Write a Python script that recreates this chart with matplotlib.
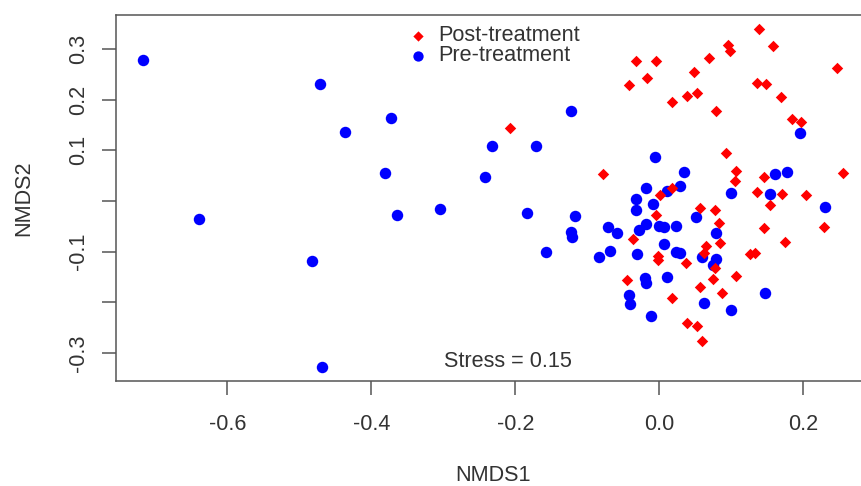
import matplotlib

matplotlib.use("Agg")

import matplotlib.pyplot as plt
import numpy as np

plt.rcParams["font.family"] = ["Liberation Sans", "DejaVu Sans"]

_TEXT = "#333333"
_FRAME = "#555555"
_FS = 15.6

# NMDS scores
pre_x = [-0.717, -0.4715, -0.373, -0.437, -0.381, -0.364, -0.639, -0.483, -0.468,
         -0.123, -0.232, -0.172, -0.242, -0.305, -0.184, -0.117, -0.123, -0.122,
         -0.157, 0.195, -0.006, 0.034, 0.160, 0.1775, -0.019, 0.029, 0.010, 0.099,
         0.153, -0.033, -0.032, -0.0095, 0.230, 0.051, -0.072, -0.059, -0.028,
         -0.019, 0.000, 0.007, 0.023, 0.079, 0.006, -0.068, -0.084, -0.031, 0.023,
         0.028, 0.059, 0.079, 0.075, -0.020, -0.019, 0.011, -0.042, -0.041, 0.062,
         0.099, 0.1465, -0.012]
pre_y = [0.278, 0.231, 0.164, 0.136, 0.056, -0.027, -0.036, -0.119, -0.327,
         0.178, 0.108, 0.108, 0.048, -0.016, -0.024, -0.030, -0.061, -0.070,
         -0.100, 0.134, 0.087, 0.058, 0.053, 0.058, 0.026, 0.029, 0.020, 0.015,
         0.013, 0.003, -0.018, -0.0065, -0.011, -0.031, -0.052, -0.0625, -0.057,
         -0.045, -0.050, -0.052, -0.050, -0.064, -0.085, -0.099, -0.110, -0.105,
         -0.101, -0.103, -0.111, -0.114, -0.126, -0.152, -0.162, -0.150, -0.185,
         -0.203, -0.201, -0.214, -0.181, -0.227]

post_x = [0.138, 0.158, 0.0956, 0.098, 0.069, -0.032, -0.005, 0.246, 0.048, -0.017,
          -0.042, 0.135, 0.1475, 0.038, 0.052, 0.169, 0.017, 0.079, 0.184, 0.196,
          -0.2076, 0.093, -0.078, 0.107, 0.105, 0.2555, 0.145, 0.135, 0.170, 0.204,
          0.0007, 0.017, 0.153, -0.005, 0.057, 0.077, 0.083, 0.145, 0.229, -0.037,
          0.174, 0.084, 0.064, 0.0625, -0.002, -0.002, 0.037, 0.126, 0.133, 0.0775,
          -0.0456, 0.107, 0.075, 0.056, 0.087, 0.018, 0.038, 0.0525, 0.0595]
post_y = [0.339, 0.306, 0.308, 0.296, 0.283, 0.277, 0.2755, 0.262, 0.254, 0.243,
          0.228, 0.233, 0.231, 0.208, 0.214, 0.206, 0.196, 0.178, 0.161, 0.155,
          0.145, 0.094, 0.053, 0.059, 0.039, 0.056, 0.048, 0.018, 0.013, 0.012,
          0.012, 0.025, -0.008, -0.027, -0.013, -0.018, -0.044, -0.053, -0.052, -0.074,
          -0.080, -0.083, -0.088, -0.102, -0.1085, -0.117, -0.123, -0.105, -0.103, -0.133,
          -0.1565, -0.148, -0.154, -0.169, -0.182, -0.191, -0.241, -0.246, -0.276]

x_ticks = [-0.6, -0.4, -0.2, 0.0, 0.2]
x_labels = ["-0.6", "-0.4", "-0.2", "0.0", "0.2"]
y_ticks = [-0.3, -0.2, -0.1, 0.0, 0.1, 0.2, 0.3]
y_labels = ["-0.3", "", "-0.1", "", "0.1", "0.2", "0.3"]
stress_text = "Stress = 0.15"

fig = plt.figure(figsize=(8.61, 4.86), dpi=100)
fig.patch.set_facecolor("white")
W, H = 861.0, 486.0
left_px, right_px, top_px, bottom_px = 115.7, 870.0, 14.7, 380.7
ax = fig.add_axes([left_px / W, 1 - bottom_px / H, (right_px - left_px) / W, (bottom_px - top_px) / H])

h_pre = ax.scatter(pre_x, pre_y, s=68, marker="o", color="#0000ff", linewidths=0, zorder=3)
h_post = ax.scatter(post_x, post_y, s=34, marker="D", color="#ff0000", linewidths=0, zorder=3)

ax.set_xlim(-0.755, 0.2924)
ax.set_ylim(-0.3544, 0.3675)
ax.set_xticks(x_ticks)
ax.set_xticklabels(x_labels)
ax.set_yticks(y_ticks)
ax.set_yticklabels(y_labels, rotation=90, va="center")

ax.tick_params(axis="both", length=10, width=1.1, color=_FRAME, labelcolor=_TEXT, labelsize=_FS)
ax.tick_params(axis="x", pad=14)
ax.tick_params(axis="y", pad=9)
for spine in ax.spines.values():
    spine.set_color(_FRAME)
    spine.set_linewidth(1.1)

ax.set_xlabel("NMDS1", fontsize=_FS, color=_TEXT)
ax.xaxis.set_label_coords(0.5, -0.2577)
ax.xaxis.label.set_va("center")
ax.set_ylabel("NMDS2", fontsize=_FS, color=_TEXT)
ax.yaxis.set_label_coords(-0.1216, 0.5)
ax.yaxis.label.set_va("center")

ax.text(-0.2104, -0.317, stress_text, ha="center", va="center", fontsize=_FS, color=_TEXT)

ax.legend(
    [h_post, h_pre],
    ["Post-treatment", "Pre-treatment"],
    loc="center left",
    bbox_to_anchor=(406.9 / W, 1 - 45.9 / H),
    bbox_transform=fig.transFigure,
    frameon=False,
    fontsize=_FS,
    handlelength=1.0,
    handletextpad=0.45,
    labelspacing=-0.05,
    borderpad=0,
    borderaxespad=0,
    markerscale=0.9,
    labelcolor=_TEXT,
)

fig.savefig("out.png", dpi=100, facecolor="white")
